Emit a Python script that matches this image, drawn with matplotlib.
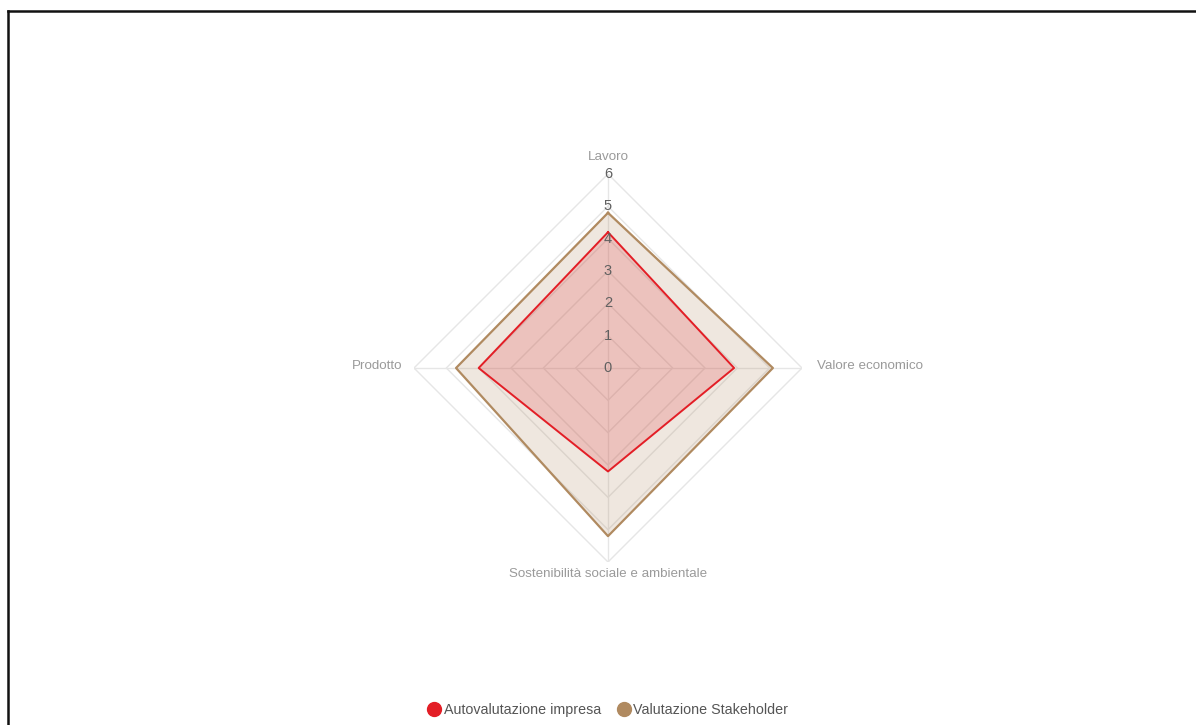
import numpy as np
import matplotlib
matplotlib.use("Agg")
import matplotlib.pyplot as plt
from matplotlib.lines import Line2D

plt.rcParams['font.family'] = ['Liberation Sans', 'DejaVu Sans']

categories = ["Lavoro", "Valore economico", "Sostenibilità sociale e ambientale", "Prodotto"]
autovalutazione = [4.2, 3.9, 3.2, 4.0]
stakeholder = [4.8, 5.1, 5.2, 4.7]
tick_values = [0, 1, 2, 3, 4, 5, 6]
series_names = ["Autovalutazione impresa", "Valutazione Stakeholder"]

RED = "#e31e26"
BROWN = "#b08a60"
GRID = "#e6e6e6"

W, H = 1196, 725
fig = plt.figure(figsize=(W / 100, H / 100), dpi=100)

# polar axes centred on the chart area
cx, cy, R = 608, 368, 194
ax = fig.add_axes([(cx - R) / W, (H - cy - R) / H, 2 * R / W, 2 * R / H], projection='polar')
ax.set_theta_offset(np.pi / 2)
ax.set_theta_direction(-1)
ax.set_ylim(0, max(tick_values))
ax.set_xticks([])
ax.set_yticks([])
ax.grid(False)
ax.spines['polar'].set_visible(False)
ax.patch.set_alpha(0)

n = len(categories)
angles = np.linspace(0, 2 * np.pi, n, endpoint=False)
closed = np.concatenate([angles, angles[:1]])

# polygon grid rings and spokes
for t in tick_values[1:]:
    ax.plot(closed, [t] * (n + 1), color=GRID, lw=1.0, zorder=1)
for a in angles:
    ax.plot([a, a], [0, max(tick_values)], color=GRID, lw=1.0, zorder=1)

# data series
for vals, col, lw, alpha in [(stakeholder, BROWN, 1.6, 0.2), (autovalutazione, RED, 1.4, 0.18)]:
    v = list(vals) + [vals[0]]
    ax.fill(closed, v, color=col, alpha=alpha, lw=0, zorder=2)
    ax.plot(closed, v, color=col, lw=lw, zorder=3)

# radial tick labels along the top spoke
for t in tick_values:
    ax.text(0, t, str(t), ha='center', va='center', fontsize=10.5,
            color='#606060', zorder=4)

# category labels around the chart
label_specs = [
    (dict(ha='center', va='bottom'), (0, 11)),
    (dict(ha='left', va='center'), (15, 2)),
    (dict(ha='center', va='top'), (0, -6)),
    (dict(ha='right', va='center'), (-12, 2)),
]
for a, name, (align, off) in zip(angles, categories, label_specs):
    ax.annotate(name, xy=(a, max(tick_values)), xytext=off,
                textcoords='offset pixels', fontsize=9.6, color='#9a9a9a',
                annotation_clip=False, **align)

# legend
handles = [Line2D([], [], ls='none', marker='o', markersize=10,
                  markerfacecolor=c, markeredgecolor=c)
           for c in (RED, BROWN)]
fig.legend(handles, series_names, loc='center', bbox_to_anchor=(0.508, 1 - 710 / H),
           ncol=2, frameon=False, fontsize=10.3, handletextpad=0.15,
           columnspacing=1.1, handlelength=1.0, labelcolor='#555555')

# frame lines along the top and left edges
fig.add_artist(Line2D([8 / W, 1], [1 - 11 / H, 1 - 11 / H], color='#111111',
                      lw=1.8, transform=fig.transFigure))
fig.add_artist(Line2D([8 / W, 8 / W], [0, 1 - 11 / H], color='#111111',
                      lw=1.8, transform=fig.transFigure))

fig.savefig("out.png", dpi=100, facecolor='white')
